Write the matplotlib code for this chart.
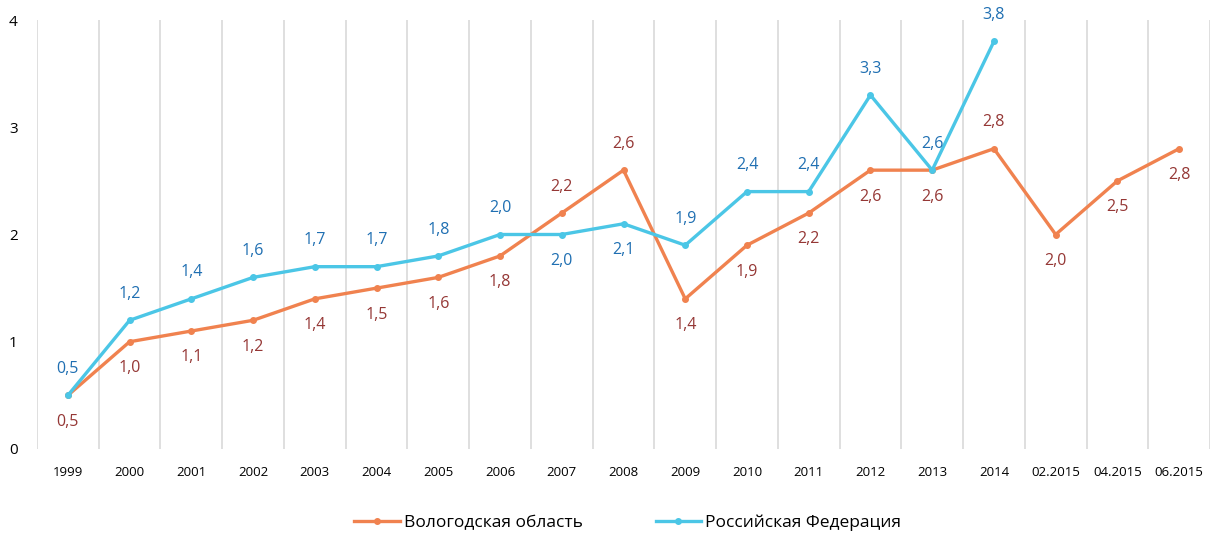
import numpy as np
import matplotlib
matplotlib.use('Agg')
import matplotlib.pyplot as plt

plt.rcParams['font.family'] = ['Open Sans', 'DejaVu Sans']

periods = ["1999", "2000", "2001", "2002", "2003", "2004", "2005", "2006", "2007",
           "2008", "2009", "2010", "2011", "2012", "2013", "2014",
           "02.2015", "04.2015", "06.2015"]
vologda = [0.5, 1.0, 1.1, 1.2, 1.4, 1.5, 1.6, 1.8, 2.2, 2.6, 1.4, 1.9, 2.2, 2.6, 2.6, 2.8, 2.0, 2.5, 2.8]
russia = [0.5, 1.2, 1.4, 1.6, 1.7, 1.7, 1.8, 2.0, 2.0, 2.1, 1.9, 2.4, 2.4, 3.3, 2.6, 3.8]
# label above (+1) or below (-1)
vologda_pos = [-1, -1, -1, -1, -1, -1, -1, -1, 1, 1, -1, -1, -1, -1, -1, 1, -1, -1, -1]
russia_pos = [1, 1, 1, 1, 1, 1, 1, 1, -1, -1, 1, 1, 1, 1, 1, 1]

c_vol = '#F0824F'
c_rus = '#4BC6E6'
lab_vol = '#953735'
lab_rus = '#1F6FB2'

fig = plt.figure(figsize=(12.12, 5.36), dpi=100)
ax = fig.add_axes([37 / 1212, 1 - 449 / 536, (1210 - 37) / 1212, (449 - 20) / 536])

x = np.arange(len(periods))
ax.plot(x, vologda, color=c_vol, lw=2.4, marker='o', ms=4, label='Вологодская область', zorder=3)
ax.plot(x[:len(russia)], russia, color=c_rus, lw=2.4, marker='o', ms=4, label='Российская Федерация', zorder=3)

for xi, v, p in zip(x, vologda, vologda_pos):
    ax.annotate(f"{v:.1f}".replace('.', ','), (xi, v), xytext=(0, 19 * p), textcoords='offset points',
                ha='center', va='center', color=lab_vol, fontsize=11.5)
for xi, v, p in zip(x, russia, russia_pos):
    ax.annotate(f"{v:.1f}".replace('.', ','), (xi, v), xytext=(0, 19 * p), textcoords='offset points',
                ha='center', va='center', color=lab_rus, fontsize=11.5)

ax.set_xlim(-0.5, len(periods) - 0.5)
ax.set_ylim(0, 4)
ax.set_yticks([0, 1, 2, 3, 4])
ax.set_xticks(x)
ax.set_xticklabels(periods, fontsize=9.5)
ax.tick_params(axis='y', labelsize=11, length=0, pad=14)
ax.tick_params(axis='x', length=0, pad=12)
ax.set_xticks(np.arange(-0.5, len(periods)), minor=True)
ax.grid(True, which='minor', axis='x', color='#D9D9D9', lw=1.2)
ax.tick_params(which='minor', length=0)
for s in ax.spines.values():
    s.set_visible(False)

fig.legend(loc='lower center', ncol=2, frameon=False, fontsize=12.5, columnspacing=4.2,
           handlelength=2.6, handletextpad=0.25, bbox_to_anchor=(0.518, -0.02))

fig.savefig('out.png', dpi=100)
